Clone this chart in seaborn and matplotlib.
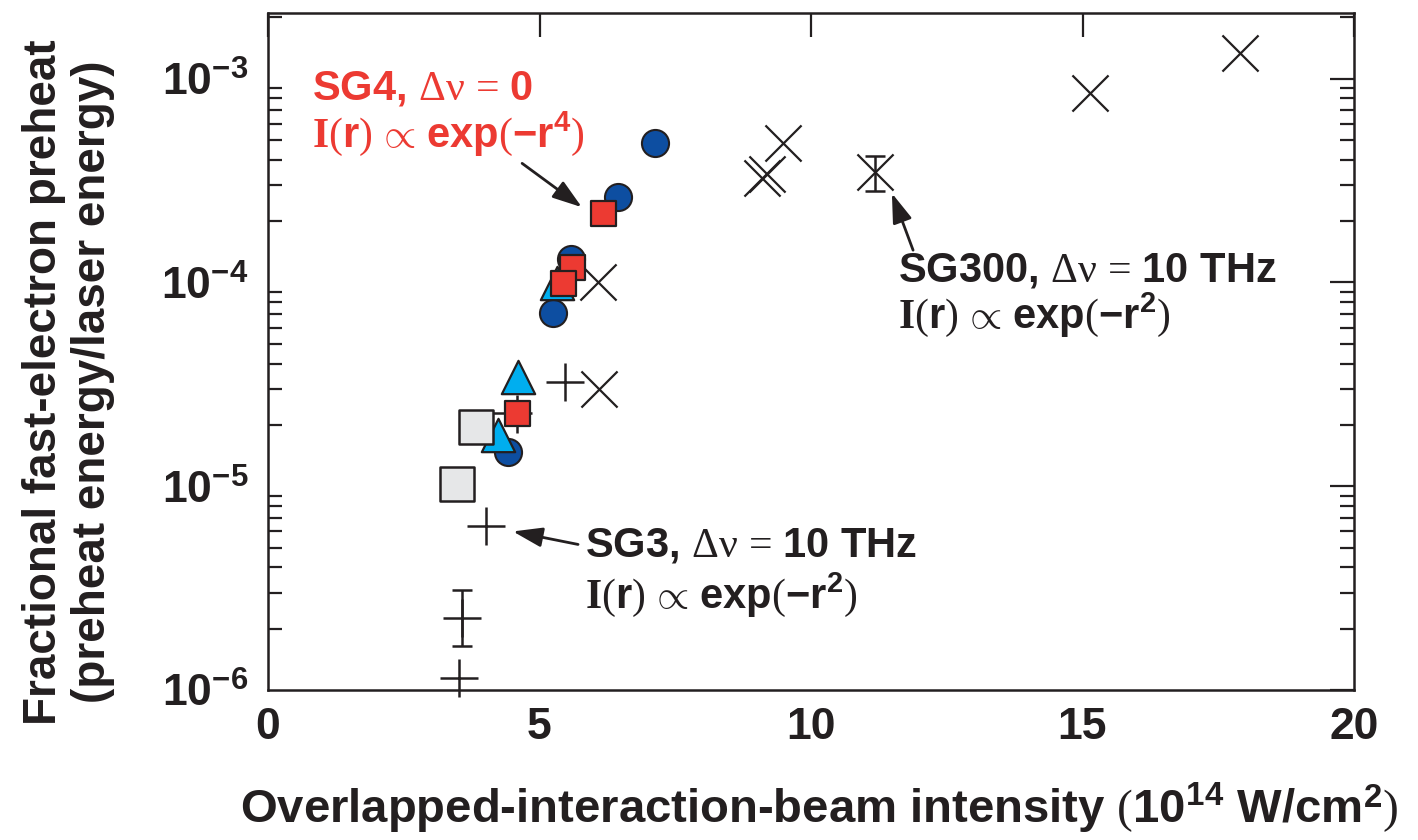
import matplotlib
matplotlib.use("Agg")
import matplotlib.pyplot as plt
import seaborn as sns
import numpy as np
import pandas as pd
from matplotlib.ticker import FixedLocator, FixedFormatter, LogLocator, NullFormatter

# ---------------- data ----------------
circle_x = [7.13, 6.45, 5.58, 5.25, 4.42]
circle_y = [4.86e-4, 2.62e-4, 1.31e-4, 7.1e-5, 1.48e-5]

tri_x = [5.32, 4.60, 4.24]
tri_y = [9.9e-5, 3.44e-5, 1.79e-5]

grey_x = [3.83, 3.48]
grey_y = [1.96e-5, 1.03e-5]

red_x = [6.17, 5.60, 5.43, 4.59]
red_y = [2.18e-4, 1.19e-4, 9.9e-5, 2.29e-5]

plus_x = [5.47, 4.01, 3.57, 3.52]
plus_y = [3.25e-5, 6.41e-6, 2.25e-6, 1.14e-6]

cross_x = [6.08, 6.10, 9.48, 9.10, 9.19, 11.18, 15.14, 17.90]
cross_y = [1.0e-4, 3.0e-5, 4.86e-4, 3.24e-4, 3.39e-4, 3.47e-4, 8.54e-4, 1.33e-3]

# error bars (value, low, high)
plus_err_x = [3.57]
plus_err_y = [2.25e-6]
plus_err_lo = [1.64e-6]
plus_err_hi = [3.08e-6]

cross_err_x = [11.18]
cross_err_y = [3.47e-4]
cross_err_lo = [2.80e-4]
cross_err_hi = [4.15e-4]

red_err_x = [4.59]
red_err_y = [2.29e-5]
red_err_ylo = [1.83e-5]
red_err_yhi = [2.81e-5]
red_err_xlo = [4.12]
red_err_xhi = [4.86]

x_ticks = [0, 5, 10, 15, 20]
x_ticklabels = ["0", "5", "10", "15", "20"]
y_ticks = [1e-6, 1e-5, 1e-4, 1e-3]
y_ticklabels = [r"$\mathsf{10^{-6}}$", r"$\mathsf{10^{-5}}$", r"$\mathsf{10^{-4}}$", r"$\mathsf{10^{-3}}$"]

# ---------------- style ----------------
sns.set_style("white")
plt.rcParams["font.family"] = ["Liberation Sans", "DejaVu Sans"]
plt.rcParams["mathtext.fontset"] = "custom"
plt.rcParams["mathtext.rm"] = "Liberation Serif:weight=normal"
plt.rcParams["mathtext.it"] = "Liberation Serif:italic"
plt.rcParams["mathtext.bf"] = "Liberation Serif:weight=bold"
plt.rcParams["mathtext.sf"] = "Liberation Sans:weight=bold"

INK = "#231f20"
BLUE = "#0d4ea1"
RED = "#ec3a32"
CYAN = "#00aeef"
GREY = "#e6e7e8"

fig = plt.figure(figsize=(14.18, 8.40), dpi=100)
ax = fig.add_axes([268 / 1418, 1 - 690 / 840, (1354 - 268) / 1418, (690 - 13) / 840])
ax.set_yscale("log")

# error bars
ax.errorbar(plus_err_x, plus_err_y,
            yerr=[np.array(plus_err_y) - np.array(plus_err_lo), np.array(plus_err_hi) - np.array(plus_err_y)],
            fmt="none", ecolor=INK, elinewidth=1.8, capsize=7, capthick=1.8, zorder=6)
ax.errorbar(cross_err_x, cross_err_y,
            yerr=[np.array(cross_err_y) - np.array(cross_err_lo), np.array(cross_err_hi) - np.array(cross_err_y)],
            fmt="none", ecolor=INK, elinewidth=1.8, capsize=7, capthick=1.8, zorder=6)
ax.errorbar(red_err_x, red_err_y,
            yerr=[np.array(red_err_y) - np.array(red_err_ylo), np.array(red_err_yhi) - np.array(red_err_y)],
            xerr=[np.array(red_err_x) - np.array(red_err_xlo), np.array(red_err_xhi) - np.array(red_err_x)],
            fmt="none", ecolor=INK, elinewidth=1.8, capsize=0, zorder=2)

sns.scatterplot(x=cross_x, y=cross_y, marker="x", s=26 ** 2, color=INK, linewidth=1.6, ax=ax, zorder=3)
sns.scatterplot(x=circle_x, y=circle_y, marker="o", s=19.5 ** 2, color=BLUE, edgecolor=INK, linewidth=1.5, ax=ax, zorder=3)
sns.scatterplot(x=tri_x, y=tri_y, marker="^", s=24 ** 2, color=CYAN, edgecolor=INK, linewidth=1.6, ax=ax, zorder=4)
sns.scatterplot(x=grey_x, y=grey_y, marker="s", s=25 ** 2, color=GREY, edgecolor=INK, linewidth=1.8, ax=ax, zorder=5)
sns.scatterplot(x=red_x, y=red_y, marker="s", s=18 ** 2, color=RED, edgecolor=INK, linewidth=1.6, ax=ax, zorder=6)
sns.scatterplot(x=plus_x, y=plus_y, marker="+", s=27 ** 2, color=INK, linewidth=1.8, ax=ax, zorder=7,
                clip_on=False)

# ---------------- axes ----------------
ax.set_xlim(0, 20)
ax.set_ylim(1e-6, 2.1e-3)
ax.xaxis.set_major_locator(FixedLocator(x_ticks))
ax.xaxis.set_major_formatter(FixedFormatter(x_ticklabels))
ax.yaxis.set_major_locator(FixedLocator(y_ticks))
ax.yaxis.set_major_formatter(FixedFormatter(y_ticklabels))
ax.yaxis.set_minor_locator(LogLocator(base=10, subs=np.arange(2, 10), numticks=20))
ax.yaxis.set_minor_formatter(NullFormatter())

for s in ax.spines.values():
    s.set_linewidth(1.8)
    s.set_color(INK)
    s.set_visible(True)

ax.tick_params(axis="both", which="major", direction="in", length=17, width=1.6, color=INK,
               top=True, right=True, labelsize=32, labelcolor=INK)
ax.tick_params(axis="y", which="minor", direction="in", length=10, width=1.6, color=INK,
               left=True, right=True)
ax.tick_params(axis="x", which="major", pad=12)
ax.tick_params(axis="y", which="major", pad=14)
for lab in ax.get_xticklabels() + ax.get_yticklabels():
    lab.set_fontweight("bold")

ax.set_xlabel(r"Overlapped-interaction-beam intensity $\mathrm{(}\mathsf{10^{14}}$ W/cm$^{\mathsf{2}}\mathrm{)}$",
              fontsize=34, fontweight="bold", color=INK)
ax.xaxis.set_label_coords(0.508, -0.135)
ax.set_ylabel("Fractional fast-electron preheat\n(preheat energy/laser energy)",
              fontsize=33, fontweight="bold", color=INK, linespacing=1.15)
ax.yaxis.set_label_coords(-0.141, 0.455)

# ---------------- annotations ----------------
def two_lines(x, y1, y2, l1, l2, color):
    ax.text(x, y1, l1, transform=ax.transAxes, fontsize=30, fontweight="bold", color=color, va="baseline", ha="left")
    ax.text(x, y2, l2, transform=ax.transAxes, fontsize=30, fontweight="bold", color=color, va="baseline", ha="left")

line2_r4 = r"$\mathbf{I}\mathrm{(}\mathsf{r}\mathrm{)}\,\propto\,\mathsf{exp}\mathrm{(}\mathsf{-r^{4}}\mathrm{)}$"
line2_r2 = r"$\mathbf{I}\mathrm{(}\mathsf{r}\mathrm{)}\,\propto\,\mathsf{exp}\mathrm{(}\mathsf{-r^{2}}\mathrm{)}$"

two_lines(0.0405, 0.8715, 0.802, r"SG4, $\mathrm{\Delta\nu}\,=\,\mathsf{0}$", line2_r4, RED)
two_lines(0.580, 0.6027, 0.5347, r"SG300, $\mathrm{\Delta\nu}\,=\,\mathsf{10}$ THz", line2_r2, INK)
two_lines(0.2919, 0.1965, 0.1211, r"SG3, $\mathrm{\Delta\nu}\,=\,\mathsf{10}$ THz", line2_r2, INK)

arrow_kw = dict(arrowstyle="-|>,head_length=0.9,head_width=0.3", lw=2.0, color=INK,
                mutation_scale=20, shrinkA=0, shrinkB=0)
ax.annotate("", xy=(5.78, 2.34e-4), xytext=(4.68, 3.84e-4), arrowprops=arrow_kw, zorder=8)
ax.annotate("", xy=(11.49, 2.74e-4), xytext=(11.88, 1.44e-4), arrowprops=arrow_kw, zorder=8)
ax.annotate("", xy=(4.51, 6.0e-6), xytext=(5.71, 5.18e-6), arrowprops=arrow_kw, zorder=8)

fig.savefig("out.png", dpi=100)
